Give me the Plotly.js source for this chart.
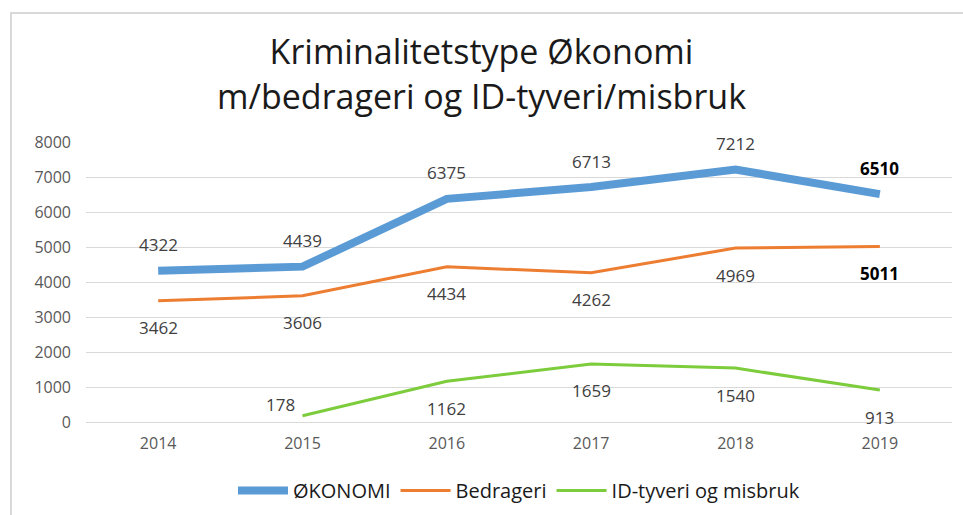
<!DOCTYPE html>
<html>
<head>
<meta charset="utf-8">
<script src="https://cdn.plot.ly/plotly-3.0.1.min.js"></script>
<style>
html,body{margin:0;padding:0;background:#fff;}
#wrap{position:absolute;left:0;top:0;width:963px;height:515px;}
#frame{position:absolute;left:10px;top:12px;width:953px;height:503px;border-left:2px solid #d9d9d9;border-top:2px solid #d9d9d9;pointer-events:none;}
#chart{position:absolute;left:0;top:0;width:963px;height:515px;}
</style>
</head>
<body>
<div id="wrap"><div id="chart"></div><div id="frame"></div></div>
<script>
const years = ['2014','2015','2016','2017','2018','2019'];
const okonomi = [4322, 4439, 6375, 6713, 7212, 6510];
const bedrageri = [3462, 3606, 4434, 4262, 4969, 5011];
const idTyveriYears = ['2015','2016','2017','2018','2019'];
const idTyveri = [178, 1162, 1659, 1540, 913];
const seriesNames = ['ØKONOMI', 'Bedrageri', 'ID-tyveri og misbruk'];
const yTicks = [0, 1000, 2000, 3000, 4000, 5000, 6000, 7000, 8000];

const colors = ['#5b9bd5', '#ed7d31', '#7ccc3c'];
const idx = arr => arr.map(y => years.indexOf(y));
const traces = [
  {x: idx(years), y: okonomi, name: seriesNames[0], mode: 'lines', line: {color: colors[0], width: 8}},
  {x: idx(years), y: bedrageri, name: seriesNames[1], mode: 'lines', line: {color: colors[1], width: 3}},
  {x: idx(idTyveriYears), y: idTyveri, name: seriesNames[2], mode: 'lines', line: {color: colors[2], width: 3}}
];

const FF = '"Open Sans", Lato, sans-serif';
const labelFont = {family: FF, size: 17, color: '#404040'};
const boldFont = {family: FF, size: 17, color: '#000000'};
const annotations = [];
years.forEach((yr, i) => {
  const last = i === years.length - 1;
  annotations.push({x: i, y: okonomi[i], xref: 'x', yref: 'y', text: last ? '<b>' + okonomi[i] + '</b>' : String(okonomi[i]),
    showarrow: false, yshift: 26, font: last ? boldFont : labelFont});
  annotations.push({x: i, y: bedrageri[i], xref: 'x', yref: 'y', text: last ? '<b>' + bedrageri[i] + '</b>' : String(bedrageri[i]),
    showarrow: false, yshift: -27, font: last ? boldFont : labelFont});
});
idTyveriYears.forEach((yr, i) => {
  const first = i === 0;
  annotations.push({x: years.indexOf(yr), y: idTyveri[i], xref: 'x', yref: 'y', text: String(idTyveri[i]),
    showarrow: false, yshift: first ? 11 : -27, xshift: first ? -22 : 0, font: labelFont});
});

const layout = {
  width: 963, height: 515,
  margin: {l: 86, r: 11, t: 142, b: 93, autoexpand: false},
  paper_bgcolor: 'rgba(0,0,0,0)', plot_bgcolor: '#ffffff',
  title: {text: 'Kriminalitetstype Økonomi<br>m/bedrageri og ID-tyveri/misbruk', x: 0.5, xanchor: 'center', y: 0.875, yanchor: 'top',
    font: {family: FF, size: 34, color: '#1a1a1a'}},
  xaxis: {range: [-0.5, 5.5], tickvals: [0,1,2,3,4,5], ticktext: years, showgrid: false, zeroline: false, showline: false, ticks: '',
    ticklabelstandoff: 10,
    tickfont: {family: FF, size: 16, color: '#595959'}, fixedrange: true},
  yaxis: {range: [0, 8000], tickvals: yTicks, showgrid: true, gridcolor: '#d9d9d9', gridwidth: 1, zeroline: true, zerolinecolor: '#d9d9d9',
    showline: false, ticks: '', ticklabelstandoff: 14,
    tickfont: {family: FF, size: 16, color: '#595959'}, fixedrange: true},
  legend: {orientation: 'h', x: 0.5, xanchor: 'center', y: -0.175, yanchor: 'top',
    font: {family: FF, size: 20, color: '#1a1a1a'}, itemwidth: 50, tracegroupgap: 0},
  annotations: annotations,
  showlegend: true
};
Plotly.newPlot('chart', traces, layout, {displayModeBar: false, staticPlot: true});
</script>
</body>
</html>
